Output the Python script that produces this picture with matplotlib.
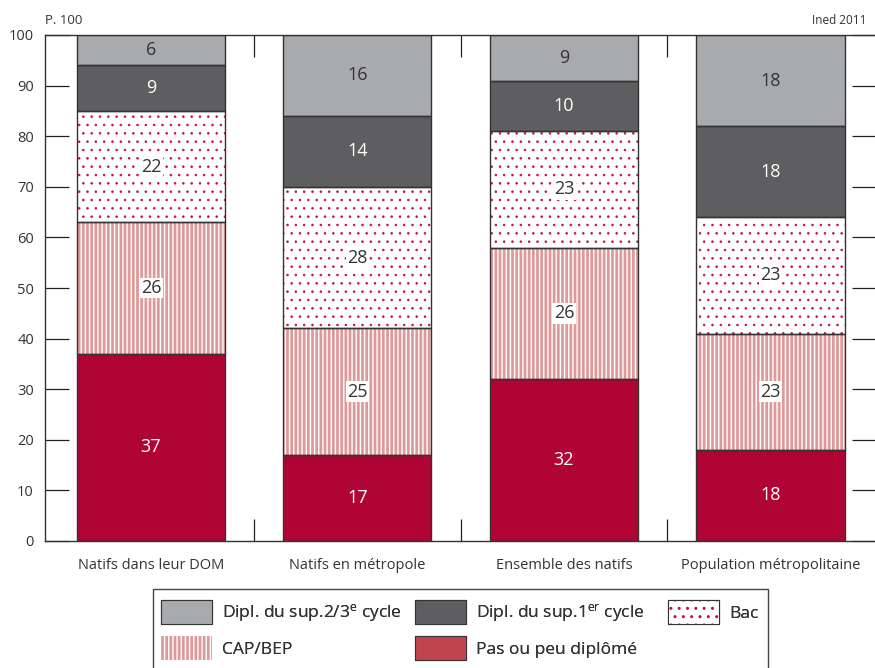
import matplotlib
matplotlib.use("Agg")
import matplotlib.pyplot as plt
from matplotlib.patches import Patch, Rectangle
from matplotlib.legend_handler import HandlerTuple
import numpy as np

plt.rcParams['font.family'] = ['Open Sans', 'DejaVu Sans']
plt.rcParams['mathtext.fontset'] = 'custom'
plt.rcParams['mathtext.rm'] = 'Open Sans'
plt.rcParams['mathtext.it'] = 'Open Sans'

categories = ["Natifs dans leur DOM", "Natifs en métropole",
              "Ensemble des natifs", "Population métropolitaine"]
pas_diplome = [37, 17, 32, 18]
cap_bep = [26, 25, 26, 23]
bac = [22, 28, 23, 23]
sup1 = [9, 14, 10, 18]
sup23 = [6, 16, 9, 18]
yticks = [0, 10, 20, 30, 40, 50, 60, 70, 80, 90, 100]

RED = "#B00435"
RED_LEG = "#C0434F"
PINK = "#DE9A9A"
DOT = "#C8103E"
DGRAY = "#5E5E60"
LGRAY = "#A9AAAD"
EDGE = "#333333"
TXT = "#333333"

W, H = 875, 668
fig = plt.figure(figsize=(W / 100, H / 100), dpi=100)
ax = fig.add_axes([45 / W, 1 - 541 / H, (876 - 45) / W, (541 - 35) / H])

x = np.arange(len(categories))
bw = 0.717
series = [
    (pas_diplome, dict(color=RED), "white", False, 1.0),
    (cap_bep, dict(color=PINK, hatch="||||", edgecolor="white"), TXT, True, 1.0),
    (bac, dict(color="white", hatch="..", edgecolor=DOT), TXT, True, 0.6),
    (sup1, dict(color=DGRAY), "white", False, 1.0),
    (sup23, dict(color=LGRAY), TXT, False, 1.0),
]
bottom = np.zeros(len(categories))
for vals, style, tcol, box, hlw in series:
    vals = np.array(vals, dtype=float)
    bars = ax.bar(x, vals, bw, bottom=bottom, linewidth=0, **style, zorder=2)
    for b in bars:
        if hasattr(b, "set_hatch_linewidth"):
            b.set_hatch_linewidth(hlw)
    ax.bar(x, vals, bw, bottom=bottom, facecolor="none", edgecolor=EDGE,
           linewidth=1.0, zorder=3)
    for xi, v, b in zip(x, vals, bottom):
        kw = {}
        if box:
            kw['bbox'] = dict(facecolor="white", edgecolor="none", pad=1.0)
        ax.text(xi, b + v / 2, f"{int(v)}", ha="center", va="center",
                fontsize=13, color=tcol, zorder=4, **kw)
    bottom += vals

ax.set_xlim(-0.513, 3.511)
ax.set_ylim(0, 100)
ax.set_yticks(yticks)
ax.set_yticklabels([str(t) for t in yticks], fontsize=10.5, color=TXT)
ax.tick_params(axis='y', direction='in', length=17, width=0.9, color="#222222",
               left=True, right=True, pad=8)
ax.set_xticks(x)
ax.set_xticklabels(categories, fontsize=10.5, color=TXT)
ax.tick_params(axis='x', which='major', length=0, pad=12)
ax.set_xticks([0.5, 1.5, 2.5], minor=True)
ax.tick_params(axis='x', which='minor', direction='in', length=16, width=0.9,
               color="#222222", top=True, bottom=True)
for s in ax.spines.values():
    s.set_color(EDGE)
    s.set_linewidth(1.0)

fig.text(45 / W, 1 - 20 / H, "P. 100", fontsize=9.5, color=TXT,
         ha="left", va="center")
fig.text(866 / W, 1 - 20 / H, "Ined 2011", fontsize=8.5, color=TXT,
         ha="right", va="center")

# legend frame
fig.add_artist(Rectangle((153 / W, -0.05), (768 - 153) / W, (1 - 589 / H) + 0.05,
                         transform=fig.transFigure, fill=False,
                         edgecolor="#444444", linewidth=1.0))

bac_hatch = Patch(facecolor="white", edgecolor=DOT, hatch="..", linewidth=0)
if hasattr(bac_hatch, "set_hatch_linewidth"):
    bac_hatch.set_hatch_linewidth(0.6)
bac_handle = (bac_hatch, Patch(facecolor="none", edgecolor=EDGE, linewidth=0.8))

columns = [
    ([Patch(facecolor=LGRAY, edgecolor=EDGE, linewidth=0.8),
      Patch(facecolor=PINK, edgecolor="white", hatch="||||", linewidth=0)],
     ["Dipl. du sup.2/3$^{\\mathrm{e}}$ cycle", "CAP/BEP"], 161),
    ([Patch(facecolor=DGRAY, edgecolor=EDGE, linewidth=0.8),
      Patch(facecolor=RED_LEG, edgecolor=EDGE, linewidth=0.8)],
     ["Dipl. du sup.1$^{\\mathrm{er}}$ cycle", "Pas ou peu diplômé"], 415),
    ([bac_handle], ["Bac"], 668),
]
fs = 12.5
for hs, ls, xl in columns:
    lg = fig.legend(hs, ls, loc="upper left",
                    bbox_to_anchor=(xl / W, 1 - 600 / H), fontsize=fs,
                    frameon=False, borderpad=0, borderaxespad=0,
                    handlelength=2.94, handleheight=1.75, handletextpad=0.6,
                    labelspacing=0.7, labelcolor=TXT,
                    handler_map={tuple: HandlerTuple(ndivide=1, pad=0)})
    fig.add_artist(lg)

fig.savefig("out.png", dpi=100)
